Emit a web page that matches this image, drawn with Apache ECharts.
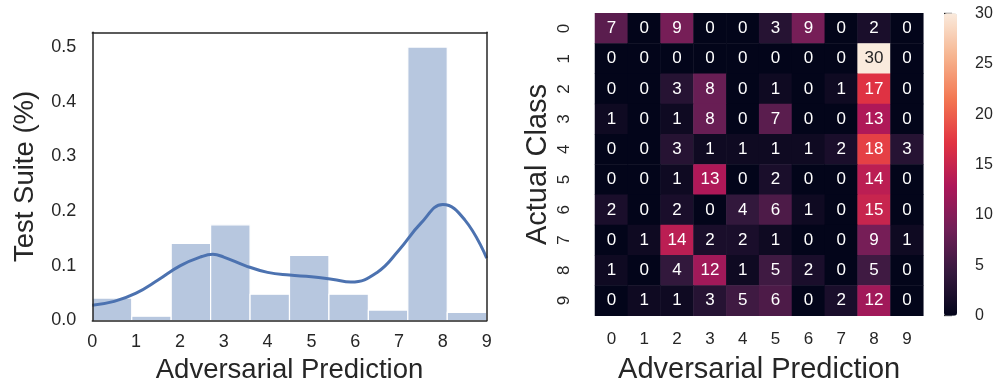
<!DOCTYPE html>
<html><head><meta charset="utf-8">
<script src="https://cdn.jsdelivr.net/npm/echarts@6/dist/echarts.min.js"></script>
<style>html,body{margin:0;padding:0;background:#fff}#c{width:1003px;height:389px}</style>
</head><body><div id="c"></div>
<script>
// ---- Left panel: histogram (density) + KDE ----
const binStarts  = [0, 0.9, 1.8, 2.7, 3.6, 4.5, 5.4, 6.3, 7.2, 8.1];
const binEnds    = [0.9, 1.8, 2.7, 3.6, 4.5, 5.4, 6.3, 7.2, 8.1, 9.0];
const binDensity = [0.041, 0.008, 0.141, 0.175, 0.048, 0.119, 0.048, 0.019, 0.500, 0.015];
const kdeX = [0, 0.5, 1.0, 1.5, 2.0, 2.5, 2.75, 3.0, 3.5, 4.0, 4.5, 5.0, 5.5, 5.9, 6.5, 7.0, 7.5, 8.0, 8.5, 9.0];
const kdeY = [0.028, 0.035, 0.050, 0.074, 0.100, 0.117, 0.121, 0.116, 0.100, 0.088, 0.083, 0.080, 0.075, 0.0705, 0.088, 0.129, 0.178, 0.212, 0.184, 0.114];

// ---- Right panel: confusion heatmap ----
const predLabels   = ['0','1','2','3','4','5','6','7','8','9'];
const actualLabels = ['0','1','2','3','4','5','6','7','8','9'];
const confusion = [
  [7, 0, 9, 0, 0, 3, 9, 0, 2, 0],
  [0, 0, 0, 0, 0, 0, 0, 0, 30, 0],
  [0, 0, 3, 8, 0, 1, 0, 1, 17, 0],
  [1, 0, 1, 8, 0, 7, 0, 0, 13, 0],
  [0, 0, 3, 1, 1, 1, 1, 2, 18, 3],
  [0, 0, 1, 13, 0, 2, 0, 0, 14, 0],
  [2, 0, 2, 0, 4, 6, 1, 0, 15, 0],
  [0, 1, 14, 2, 2, 1, 0, 0, 9, 1],
  [1, 0, 4, 12, 1, 5, 2, 0, 5, 0],
  [0, 1, 1, 3, 5, 6, 0, 2, 12, 0]
];
const rocket = ['#03051a','#35193e','#701f57','#ad1759','#e13342','#f37651','#f6b48f','#faebdd'];

const FONT = "'Liberation Sans', Arial, sans-serif";
const TXT = '#262626';

const histData = binStarts.map((s, i) => [s, binEnds[i], binDensity[i]]);
const kdeData = kdeX.map((x, i) => [x, kdeY[i]]);
const heatData = [];
confusion.forEach((row, r) => row.forEach((v, c) => {
  heatData.push({ value: [c, r, v], label: { color: v >= 24 ? TXT : '#ffffff' } });
}));

const chart = echarts.init(document.getElementById('c'), null, { renderer: 'canvas' });
const borderLine = { show: true, onZero: false, lineStyle: { color: TXT, width: 1.5 } };

chart.setOption({
  animation: false,
  textStyle: { fontFamily: FONT },
  grid: [
    { left: 92.3, top: 32.3, width: 394.4, height: 288.2, outerBoundsMode: 'none' },
    { left: 595, top: 13.3, width: 328.3, height: 302.4, outerBoundsMode: 'none' },
    { left: 944, top: 13.3, width: 13, height: 302.4, outerBoundsMode: 'none' }
  ],
  xAxis: [
    { gridIndex: 0, type: 'value', min: 0, max: 9, interval: 1, z: 10,
      axisLine: borderLine, axisTick: { show: false }, splitLine: { show: false },
      axisLabel: { color: TXT, fontSize: 18, margin: 13, fontFamily: FONT },
      name: 'Adversarial Prediction', nameLocation: 'middle', nameGap: 36,
      nameTextStyle: { color: TXT, fontSize: 27.5, fontFamily: FONT } },
    { gridIndex: 0, type: 'value', position: 'top', min: 0, max: 9, z: 10,
      axisLine: borderLine, axisTick: { show: false }, axisLabel: { show: false }, splitLine: { show: false } },
    { gridIndex: 1, type: 'category', data: predLabels,
      axisLine: { show: false }, axisTick: { show: false }, splitLine: { show: false },
      axisLabel: { color: TXT, fontSize: 17, margin: 15, fontFamily: FONT },
      name: 'Adversarial Prediction', nameLocation: 'middle', nameGap: 40,
      nameTextStyle: { color: TXT, fontSize: 29, fontFamily: FONT } },
    { gridIndex: 2, type: 'value', min: 0, max: 1, show: false }
  ],
  yAxis: [
    { gridIndex: 0, type: 'value', min: 0, max: 0.527, interval: 0.1, z: 10,
      axisLine: borderLine, axisTick: { show: false }, splitLine: { show: false },
      axisLabel: { color: TXT, fontSize: 18, margin: 16, showMaxLabel: false, fontFamily: FONT,
                   formatter: v => v.toFixed(1) },
      name: 'Test Suite (%)', nameLocation: 'middle', nameGap: 53,
      nameTextStyle: { color: TXT, fontSize: 27.5, fontFamily: FONT } },
    { gridIndex: 0, type: 'value', position: 'right', min: 0, max: 0.527, z: 10,
      axisLine: borderLine, axisTick: { show: false }, axisLabel: { show: false }, splitLine: { show: false } },
    { gridIndex: 1, type: 'category', data: actualLabels, inverse: true,
      axisLine: { show: false }, axisTick: { show: false }, splitLine: { show: false },
      axisLabel: { color: TXT, fontSize: 17, margin: 22, rotate: 90, fontFamily: FONT },
      name: 'Actual Class', nameLocation: 'middle', nameGap: 43,
      nameTextStyle: { color: TXT, fontSize: 29, fontFamily: FONT } },
    { gridIndex: 2, type: 'value', position: 'right', min: 0, max: 30, interval: 5,
      axisLine: { show: false }, splitLine: { show: false },
      axisTick: { show: true, length: 8, lineStyle: { color: TXT, width: 1.3 } },
      axisLabel: { color: TXT, fontSize: 16, margin: 18, fontFamily: FONT } }
  ],
  visualMap: {
    type: 'continuous', min: 0, max: 30, seriesIndex: 2,
    left: 944, top: 13.3, itemWidth: 13, itemHeight: 302.4, padding: 0,
    calculable: false, inRange: { color: rocket }
  },
  series: [
    { type: 'custom', xAxisIndex: 0, yAxisIndex: 0, data: histData,
      encode: { x: [0, 1], y: 2 },
      renderItem: function (params, api) {
        const p0 = api.coord([api.value(0), api.value(2)]);
        const p1 = api.coord([api.value(1), 0]);
        return { type: 'rect',
          shape: { x: p0[0], y: p0[1], width: p1[0] - p0[0], height: p1[1] - p0[1] },
          style: { fill: '#b7c7df', stroke: '#ffffff', lineWidth: 1.2 } };
      } },
    { type: 'line', xAxisIndex: 0, yAxisIndex: 0, data: kdeData, smooth: 0.45,
      showSymbol: false, symbol: 'none', clip: true, z: 5,
      lineStyle: { color: '#4c72b0', width: 3 } },
    { type: 'heatmap', xAxisIndex: 2, yAxisIndex: 2, data: heatData,
      label: { show: true, fontSize: 17, fontFamily: FONT, formatter: p => String(p.value[2]) },
      itemStyle: { borderWidth: 0 }, emphasis: { disabled: true } }
  ]
});
</script>
</body></html>
